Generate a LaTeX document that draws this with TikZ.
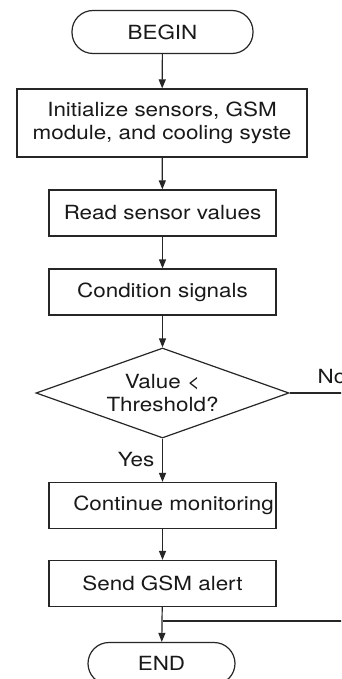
\documentclass[tikz,border=0pt]{standalone}
\usepackage{fontspec}
\setmainfont{TeX Gyre Heros}[FakeStretch=1.15]
\usetikzlibrary{shapes.geometric,arrows.meta}
\begin{document}
\begin{tikzpicture}[x=1pt,y=-1pt,
  line width=1.2pt, draw=black!85,
  every node/.style={font=\fontsize{19.5}{23}\selectfont, text=black!90},
  box/.style={draw, rectangle, inner sep=0pt, minimum width=227pt, minimum height=46pt, align=center},
  term/.style={draw, rectangle, rounded corners=21pt, inner sep=0pt, minimum height=43pt},
  dec/.style={draw, diamond, aspect=2.8, inner sep=0pt, minimum width=253pt, minimum height=90pt, align=center},
  arr/.style={-{Triangle[length=9pt,width=7pt]}},
  lbl/.style={inner sep=0pt}]
\path[use as bounding box, clip] (0,0) rectangle (341,679);
\fill[white] (0,0) rectangle (341,679);

\node[term, minimum width=181pt] (begin) at (162.5,32) {BEGIN};
\node[box, minimum width=290pt, minimum height=68pt] (init) at (162,123) {Initialize sensors, GSM\\module, and cooling syste};
\node[box] (read) at (162.5,213) {Read sensor values};
\node[box] (cond) at (162.5,292) {Condition signals};
\node[dec] (decide) at (162.5,393) {Value <\\Threshold?};
\node[box] (cont) at (162.5,505.5) {};
\node[lbl] (conttext) at (173.5,505.5) {Continue monitoring};
\node[box] (send) at (162.5,583.5) {Send GSM alert};
\node[term, minimum width=147pt, minimum height=42pt] (end) at (161.5,663.5) {END};

\coordinate (noend) at (350,393);
\coordinate (join) at (162.5,621);
\coordinate (joinend) at (350,621);

\draw[arr] (begin) -- (init);
\draw[arr] (init) -- (read);
\draw[arr] (read) -- (cond);
\draw[arr] (cond) -- (decide.north);
\draw (decide.east) -- (noend);
\node[lbl, anchor=base west] (no) at (317,383) {No};
\draw[arr] (decide.south) -- (cont.north);
\node[lbl, anchor=base east] (yes) at (155,466) {Yes};
\draw[arr] (cont) -- (send);
\draw[arr] (send) -- (end);
\draw (join) -- (joinend);
\end{tikzpicture}
\end{document}
